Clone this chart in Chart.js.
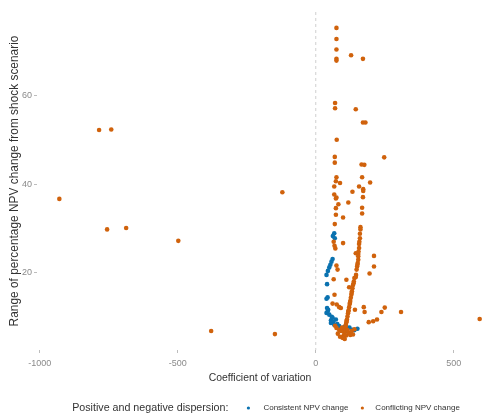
<!DOCTYPE html>
<html>
<head>
<meta charset="utf-8">
<script src="https://cdn.jsdelivr.net/npm/chart.js@4.4.0/dist/chart.umd.min.js"></script>
<style>
  html, body { margin: 0; padding: 0; background: #fff; }
  #wrap { width: 487px; height: 418px; }
</style>
</head>
<body>
<div id="wrap"><canvas id="cv-chart" width="487" height="418"></canvas></div>
<script>
// Coefficient of variation vs. range of NPV change, split by dispersion sign
const consistentCv = [67, 62, 69, 61, 57, 53, 49, 44, 39, 41, 43, 39, 41, 45, 43, 39, 49, 58, 61, 73,
  55, 64, 55, 67, 78, 85, 103, 115, 122, 133, 151, 90, 98, 108, 140];
const consistentRange = [28.9, 28.3, 27.8, 23.1, 22.5, 21.8, 21.2, 20.4, 19.5, 17.4, 14.4, 14.1, 12.0, 11.6, 11.2, 10.9, 10.5, 10.0, 9.8, 9.4,
  9.2, 8.9, 8.6, 8.2, 8.4, 7.9, 7.7, 7.5, 7.6, 7.1, 7.3, 7.0, 7.4, 6.8, 7.0];

const conflictingCv = [
  -929, -785, -741, -756, -687, -498, -379, -148, -121, 594,
  75, 75, 75, 75, 75, 128, 171, 70, 70, 145, 171, 180, 76, 69, 69, 248, 166, 176, 75, 73,
  88, 168, 197, 67, 157, 172, 172, 133, 67, 75, 171, 73, 118, 82, 73, 168, 168, 73, 99, 69,
  65, 68, 71, 99, 211, 211, 195, 75, 79, 65, 111, 121, 68, 61, 76, 85, 91, 142, 174, 177,
  250, 238, 309, 222, 208, 192,
  162, 162, 160, 160, 157, 157, 154, 145, 154, 154, 152, 150, 148, 146,
  140, 138, 135, 133, 131, 129, 127, 125, 123, 121, 119, 117, 115, 113, 111, 109, 107, 106, 104, 103, 100, 97,
  158, 155, 151, 145, 137, 130, 124, 118, 112, 108, 104,
  80, 88, 100, 110, 120, 130, 140, 85, 92, 75, 115, 125, 105, 95, 70, 135];
const conflictingRange = [
  36.7, 52.3, 52.4, 29.8, 30.1, 27.2, 6.8, 6.1, 38.2, 9.5,
  75.4, 72.9, 70.5, 68.4, 68.0, 69.2, 68.4, 58.4, 57.2, 57.0, 54.0, 54.0, 50.1, 46.2, 44.9, 46.1, 44.5, 44.4, 41.6, 40.7,
  40.3, 41.6, 40.4, 39.5, 39.5, 38.9, 38.5, 38.3, 37.7, 37.0, 37.1, 36.8, 35.9, 35.5, 34.6, 34.7, 33.4, 33.1, 32.5, 31.0,
  27.0, 26.1, 25.5, 26.7, 23.8, 21.4, 19.8, 21.6, 20.7, 18.5, 18.4, 16.7, 15.0, 13.0, 12.8, 12.2, 12.0, 11.6, 12.2, 11.1,
  12.1, 11.1, 11.1, 9.4, 9.0, 8.8,
  30.3, 29.8, 28.8, 27.8, 26.5, 25.6, 24.2, 24.4, 23.7, 22.9, 22.2, 21.4, 20.7, 19.5,
  18.8, 18.0, 17.2, 16.5, 15.8, 15.0, 14.3, 13.6, 12.9, 12.2, 11.5, 10.8, 10.1, 9.4, 8.8, 8.2, 7.6, 7.0, 6.5, 6.0, 5.6, 5.3,
  27.0, 24.8, 21.8, 19.0, 17.6, 15.4, 13.2, 11.2, 9.1, 7.9, 6.8,
  6.2, 5.5, 5.2, 5.8, 6.4, 6.8, 7.2, 7.0, 6.8, 7.5, 7.0, 5.9, 5.0, 7.6, 8.0, 6.0];

const xTicks = [-1000, -500, 0, 500];
const yTicks = [20, 40, 60];

const seriesNames = ['Consistent NPV change', 'Conflicting NPV change'];
const seriesColors = ['#0a72b0', '#d0620c'];
const legendTitle = 'Positive and negative dispersion:';

const FONT = '"Liberation Sans", Arial, sans-serif';

function toPoints(xs, ys) {
  return xs.map((x, i) => ({ x: x, y: ys[i] }));
}

// vertical dashed reference line at x = 0, plus the bottom legend
const extras = {
  id: 'extras',
  beforeDatasetsDraw(chart) {
    const { ctx, chartArea, scales } = chart;
    const x0 = scales.x.getPixelForValue(0);
    ctx.save();
    ctx.strokeStyle = '#cfcfcf';
    ctx.lineWidth = 1;
    ctx.setLineDash([3, 3]);
    ctx.beginPath();
    ctx.moveTo(x0, chartArea.top);
    ctx.lineTo(x0, chartArea.bottom);
    ctx.stroke();
    ctx.restore();
  },
  afterDraw(chart) {
    const ctx = chart.ctx;
    const y = 408;
    ctx.save();
    ctx.textBaseline = 'middle';
    ctx.font = '10.7px ' + FONT;
    const titleW = ctx.measureText(legendTitle).width;
    ctx.font = '8px ' + FONT;
    const itemW = seriesNames.map(n => ctx.measureText(n).width);
    const total = titleW + 20 + 15 + itemW[0] + 14 + 13 + itemW[1];
    let x = 266 - total / 2;

    ctx.fillStyle = '#333';
    ctx.font = '10.7px ' + FONT;
    ctx.fillText(legendTitle, x, y);
    x += titleW + 20;

    ctx.font = '8px ' + FONT;
    seriesNames.forEach((name, i) => {
      ctx.fillStyle = seriesColors[i];
      ctx.beginPath();
      ctx.arc(x, y, 1.6, 0, Math.PI * 2);
      ctx.fill();
      x += i === 0 ? 15 : 13;
      ctx.fillStyle = '#333';
      ctx.fillText(name, x, y);
      x += itemW[i] + 14;
    });
    ctx.restore();
  }
};

const tickColor = '#8a8a8a';

new Chart(document.getElementById('cv-chart'), {
  type: 'scatter',
  data: {
    datasets: [
      {
        label: seriesNames[0],
        data: toPoints(consistentCv, consistentRange),
        backgroundColor: seriesColors[0],
        borderWidth: 0,
        pointRadius: 2.3,
        order: 1
      },
      {
        label: seriesNames[1],
        data: toPoints(conflictingCv, conflictingRange),
        backgroundColor: seriesColors[1],
        borderWidth: 0,
        pointRadius: 2.3,
        order: 0
      }
    ]
  },
  options: {
    responsive: false,
    animation: false,
    layout: { padding: { top: 12, right: 0, left: 0, bottom: 0 } },
    plugins: {
      legend: { display: false },
      tooltip: { enabled: false }
    },
    scales: {
      x: {
        type: 'linear',
        min: -1010,
        max: 606,
        border: { display: false },
        grid: { drawOnChartArea: false, drawTicks: true, tickLength: 3, color: '#bdbdbd' },
        afterBuildTicks: axis => { axis.ticks = xTicks.map(v => ({ value: v })); },
        afterFit: axis => { axis.height = 68; },
        ticks: {
          color: tickColor,
          padding: 5,
          callback: v => String(v),
          font: { size: 9, family: FONT }
        },
        title: {
          display: true,
          text: 'Coefficient of variation',
          color: '#333',
          font: { size: 10.4, family: FONT },
          padding: { top: 0, bottom: 34 }
        }
      },
      y: {
        type: 'linear',
        min: 2.5,
        max: 79,
        border: { display: false },
        grid: { drawOnChartArea: false, drawTicks: true, tickLength: 3, color: '#bdbdbd' },
        afterBuildTicks: axis => { axis.ticks = yTicks.map(v => ({ value: v })); },
        afterFit: axis => { axis.width = 37; },
        ticks: {
          color: tickColor,
          padding: 2,
          font: { size: 9, family: FONT }
        },
        title: {
          display: true,
          text: 'Range of percentage NPV change from shock scenario',
          color: '#333',
          font: { size: 11.9, family: FONT },
          padding: { top: 8, bottom: 0 }
        }
      }
    }
  },
  plugins: [extras]
});
</script>
</body>
</html>
